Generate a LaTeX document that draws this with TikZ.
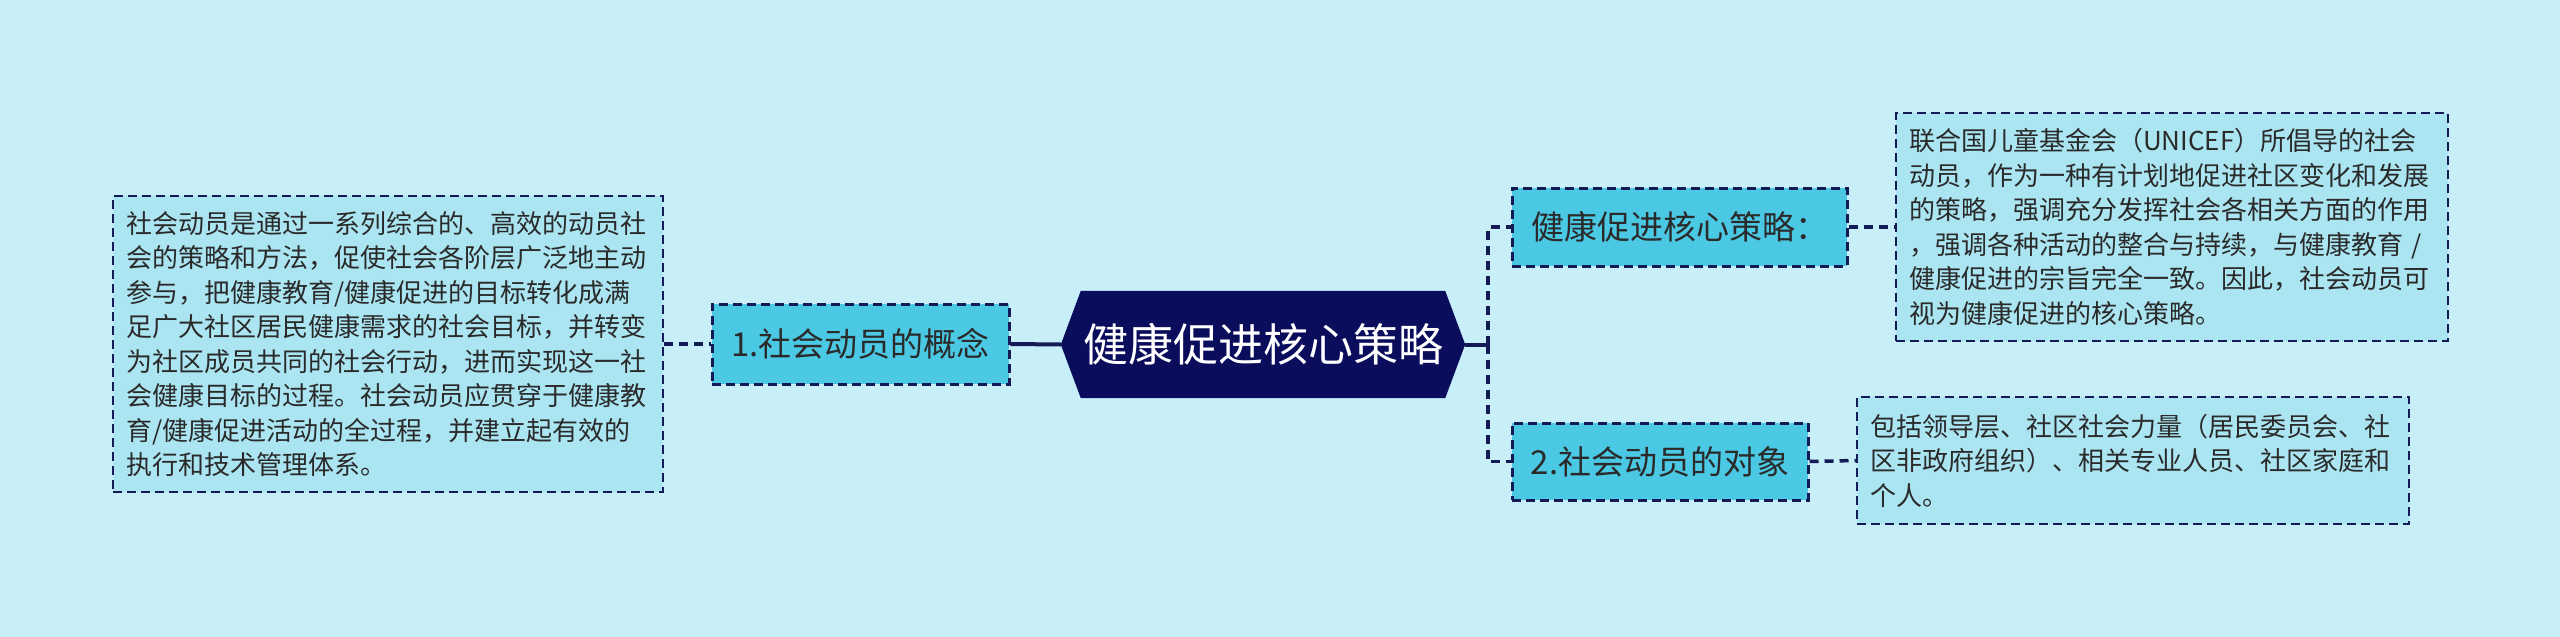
\documentclass[tikz,border=0pt]{standalone}
\usepackage{fontspec}
\setmainfont{Noto Sans CJK SC}
\usetikzlibrary{backgrounds}
\definecolor{bgc}{HTML}{C8EFF8}
\definecolor{navy}{HTML}{0A0C5C}
\definecolor{linec}{HTML}{141A55}
\definecolor{branchc}{HTML}{4BC9E4}
\definecolor{leafc}{HTML}{ABE5F2}
\definecolor{txtc}{HTML}{2A2A2A}
\tikzset{
  branchbox/.style={draw=linec, line width=3pt, dash pattern=on 9pt off 5pt, fill=branchc,
    text=txtc, font=\fontsize{33}{38}\selectfont, inner sep=0pt, anchor=center},
  leafbox/.style={draw=linec, line width=2.5pt, dash pattern=on 9pt off 5pt, fill=leafc,
    text=txtc, font=\fontsize{26}{34.5}\selectfont, inner sep=0pt, align=left, anchor=center},
  solidconn/.style={draw=linec, line width=4pt},
  dashconn/.style={draw=linec, line width=3.5pt, dash pattern=on 9pt off 6pt},
}
\begin{document}
\begin{tikzpicture}[x=1pt,y=-1pt]
\begin{scope}[on background layer]
\fill[bgc] (0,0) rectangle (2560,637);
\end{scope}
\useasboundingbox (0,0) rectangle (2560,637);

% root
\node (root) [minimum width=404pt, minimum height=107pt, inner sep=0pt, text=white,
  font=\fontsize{45}{50}\selectfont] at (1263,344.5) {健康促进核心策略};
\begin{scope}[on background layer]
\fill[navy] ([xshift=20pt]root.north west) -- ([xshift=-20pt]root.north east) -- (root.east)
  -- ([xshift=-20pt]root.south east) -- ([xshift=20pt]root.south west) -- (root.west) -- cycle;
\end{scope}

% branches
\node (b1) [branchbox, minimum width=297pt, minimum height=80pt] at (860.5,344) {1.社会动员的概念};
\node (b2) [branchbox, minimum width=335pt, minimum height=78pt] at (1679.5,227) {健康促进核心策略：};
\node (b3) [branchbox, minimum width=296pt, minimum height=77pt] at (1660,461.5) {2.社会动员的对象};

% leaves
\node (l1) [leafbox, minimum width=550pt, minimum height=296pt, text width=524pt] at (388,344) {%
社会动员是通过一系列综合的、高效的动员社\\
会的策略和方法，促使社会各阶层广泛地主动\\
参与，把健康教育/健康促进的目标转化成满\\
足广大社区居民健康需求的社会目标，并转变\\
为社区成员共同的社会行动，进而实现这一社\\
会健康目标的过程。社会动员应贯穿于健康教\\
育/健康促进活动的全过程，并建立起有效的\\
执行和技术管理体系。};

\node (l2) [leafbox, minimum width=552pt, minimum height=228pt, text width=526pt] at (2172,227) {%
联合国儿童基金会（UNICEF）所倡导的社会\\
动员，作为一种有计划地促进社区变化和发展\\
的策略，强调充分发挥社会各相关方面的作用\\
，强调各种活动的整合与持续，与健康教育 /\\
健康促进的宗旨完全一致。因此，社会动员可\\
视为健康促进的核心策略。};

\node (l3) [leafbox, minimum width=552pt, minimum height=127pt, text width=526pt] at (2133,460.5) {%
包括领导层、社区社会力量（居民委员会、社\\
区非政府组织）、相关专业人员、社区家庭和\\
个人。};

% connectors
\coordinate (jr) at (1488,344.5);
\draw[solidconn] (root.east) -- (jr);
\draw[dashconn] (jr) |- (b2.west);
\draw[dashconn] (jr) |- (b3.west);
\draw[solidconn] (b1.east) -- (root.west);
\draw[dashconn] (l1.east) -- (b1.west);
\draw[dashconn] (b2.east) -- (l2.west);
\draw[dashconn] (b3.east) -- (l3.west);
\end{tikzpicture}
\end{document}
